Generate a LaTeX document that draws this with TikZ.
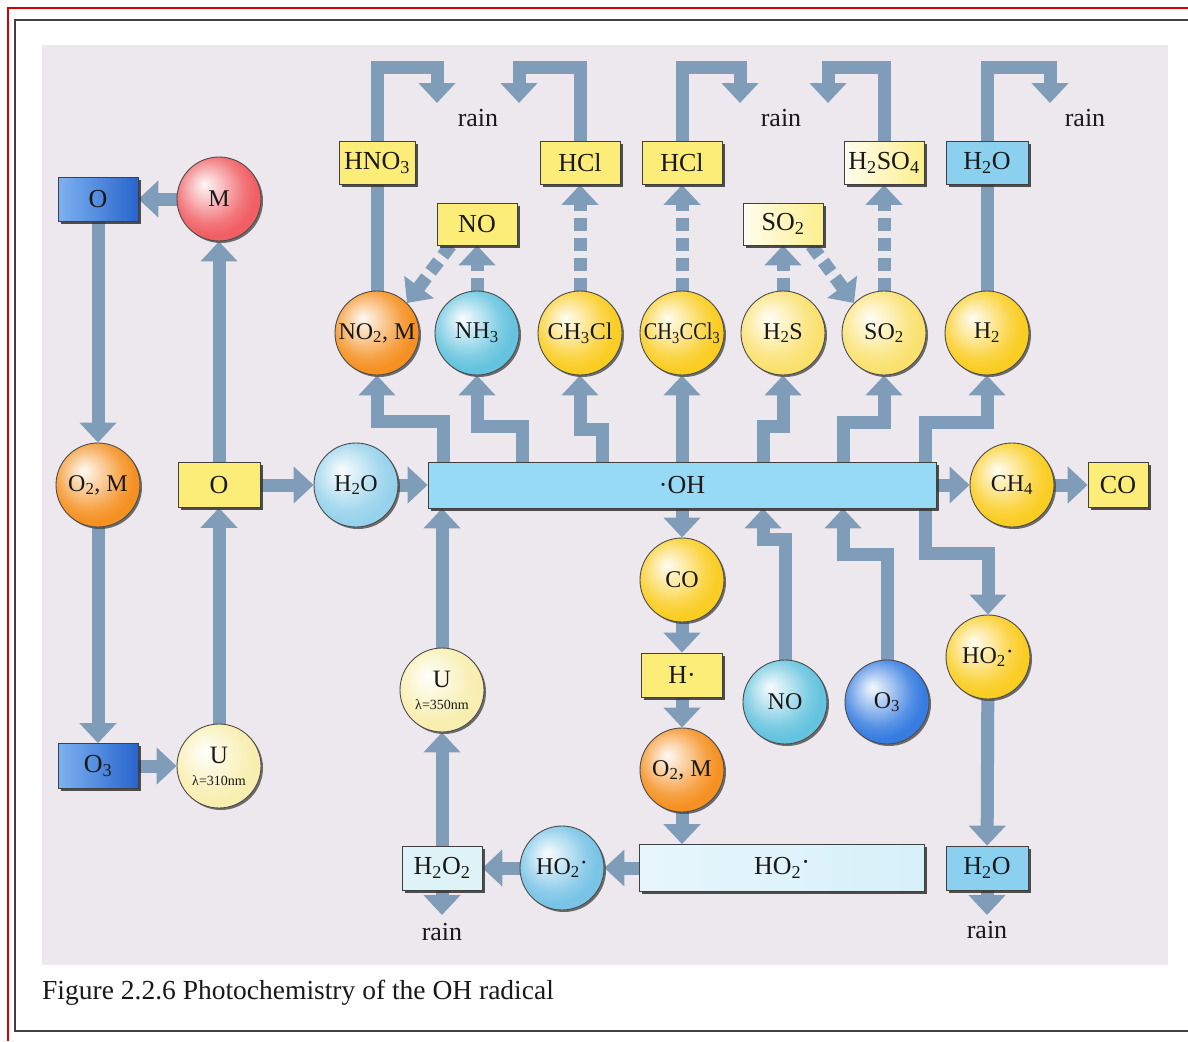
\documentclass[tikz,border=0pt]{standalone}
\usepackage{fontspec}
\setmainfont{Liberation Serif}
\usepackage{graphicx}
\usetikzlibrary{arrows.meta,shadows,calc}
\pgfdeclarelayer{bg}
\pgfdeclarelayer{conn}
\pgfsetlayers{bg,conn,main}
\makeatletter
\pgfdeclareradialshading[tikz@ball]{softball}{\pgfqpoint{-9bp}{9bp}}{%
 color(0bp)=(tikz@ball!5!white);
 color(9bp)=(tikz@ball!40!white);
 color(20bp)=(tikz@ball!85!white);
 color(26bp)=(tikz@ball);
 color(50bp)=(tikz@ball)}
\makeatother
\definecolor{flowc}{RGB}{127,156,185}
\definecolor{panelc}{RGB}{237,232,238}
\definecolor{yboxc}{RGB}{252,236,120}
\definecolor{redc}{RGB}{240,95,100}
\definecolor{orc}{RGB}{245,145,35}
\definecolor{yelc}{RGB}{250,205,35}
\definecolor{pyelc}{RGB}{250,225,110}
\definecolor{lbluec}{RGB}{100,195,222}
\definecolor{h2oblc}{RGB}{150,210,235}
\definecolor{ho2blc}{RGB}{120,195,230}
\definecolor{o3blc}{RGB}{55,125,225}
\definecolor{creamc}{RGB}{248,238,175}
\definecolor{barc}{RGB}{150,218,245}
\definecolor{bar2c}{RGB}{215,240,250}
\definecolor{h2oboxc}{RGB}{140,208,240}
\definecolor{h2o2c}{RGB}{222,243,248}
\newcommand{\sbs}[1]{\textsubscript{#1}}
\newcommand{\rdot}{\raisebox{0.35ex}{·}}
\begin{document}
\begin{tikzpicture}[x=1pt,y=-1pt,
 boxbase/.style={rectangle, draw=black!75, line width=0.8pt, inner sep=0pt,
   minimum width=80pt, minimum height=43pt, font=\fontsize{26}{28}\selectfont, text=black!90,
   drop shadow={shadow xshift=2.5pt,shadow yshift=-2.5pt,fill=black!80,opacity=.85}},
 ybox/.style={boxbase, fill=yboxc},
 cbox/.style={boxbase, left color=yboxc!12!white, right color=yboxc!85!white},
 blueb/.style={boxbase, left color={rgb,255:red,125;green,178;blue,240}, right color={rgb,255:red,40;green,100;blue,205}},
 bub/.style={circle, draw=black!70, line width=0.9pt, minimum size=84pt, inner sep=0pt,
   ball color=#1, shading=softball, font=\fontsize{24}{26}\selectfont, text=black!90,
   drop shadow={shadow xshift=2pt,shadow yshift=-2pt,fill=black!70,opacity=.8}},
 flow/.style={draw=flowc, line width=13pt, line join=miter, -{Triangle[width=36pt,length=20pt]}},
 plain/.style={draw=flowc, line width=13pt, line join=miter},
 dflow/.style={flow, dash pattern=on 13pt off 7pt},
 lbl/.style={font=\fontsize{26}{28}\selectfont, text=black!90, inner sep=0pt}
]
\useasboundingbox (0,0) rectangle (1188,1041);
\begin{pgfonlayer}{bg}
 \fill[white] (0,0) rectangle (1188,1041);
 \fill[panelc] (42,45) rectangle (1168,965);
 \draw[red!85!black, line width=1.3pt] (8,1041) -- (8,8) -- (1188,8);
 \draw[black!75, line width=1.6pt] (1188,20) -- (15,20) -- (15,1031) -- (1188,1031);
\end{pgfonlayer}

% helper x positions
\coordinate (k443) at (443,0);
\coordinate (k522) at (522,0);
\coordinate (k602) at (602,0);
\coordinate (k763) at (763,0);
\coordinate (k843) at (843,0);
\coordinate (k925) at (925,0);
\coordinate (rA) at (437,103);
\coordinate (rB) at (519,103);
\coordinate (rC) at (740,103);
\coordinate (rD) at (828,103);
\coordinate (rE) at (1050,103);
\coordinate (rF) at (442,915);
\coordinate (rG) at (987,915);

% top boxes
\node[ybox, minimum width=76pt] (hno3) at (377,163) {HNO\sbs{3}};
\node[ybox] (hcl1) at (580,163) {HCl};
\node[ybox] (hcl2) at (682,163) {HCl};
\node[cbox] (h2so4) at (884,163) {H\sbs{2}SO\sbs{4}};
\node[boxbase, fill=h2oboxc, minimum width=82pt] (h2otop) at (987,163) {H\sbs{2}O};
\node[ybox, minimum height=42pt] (nobox) at (477,224) {NO};
\node[cbox, minimum height=42pt] (so2box) at (783,224) {SO\sbs{2}};

\node[blueb, minimum height=44pt] (otop) at (98,199) {O};
\node[bub=redc] (m) at (219,199) {M};

% circle row
\node[bub=orc] (no2m) at (377,333) {NO\sbs{2}, M};
\node[bub=lbluec] (nh3) at (477,333) {NH\sbs{3}};
\node[bub=yelc] (ch3cl) at (580,333) {CH\sbs{3}Cl};
\node[bub=yelc] (ch3ccl3) at (682,333) {\scalebox{0.85}[1]{CH\sbs{3}CCl\sbs{3}}};
\node[bub=pyelc] (h2s) at (783,333) {H\sbs{2}S};
\node[bub=pyelc] (so2c) at (884,333) {SO\sbs{2}};
\node[bub=yelc] (h2) at (987,333) {H\sbs{2}};

% middle row
\node[bub=orc] (o2m) at (98,485) {O\sbs{2}, M};
\node[ybox, minimum width=82pt, minimum height=45pt] (obox) at (219,485) {O};
\node[bub=h2oblc] (h2oc) at (356,485) {H\sbs{2}O};
\node[boxbase, fill=barc, minimum width=508pt, minimum height=46pt] (ohbar) at (682,485) {·OH};
\node[bub=yelc] (ch4) at (1012,485) {CH\sbs{4}};
\node[ybox, minimum width=60pt, minimum height=45pt] (cosm) at (1118,485) {CO};

% lower middle
\node[bub=yelc] (co) at (682,580) {CO};
\node[ybox, minimum width=81pt, minimum height=44pt] (hdot) at (682,675) {H·};
\node[bub=orc] (o2m2) at (682,770) {O\sbs{2}, M};
\node[bub=lbluec] (noc) at (785,702) {NO};
\node[bub=o3blc] (o3c) at (887,702) {O\sbs{3}};
\node[bub=yelc] (ho2y) at (988,657) {HO\sbs{2}\rdot};

% bottom
\node[boxbase, left color=bar2c!60!white, right color=bar2c, minimum width=285pt, minimum height=47pt] (ho2bar) at (782,868) {HO\sbs{2}\rdot};
\node[boxbase, fill=h2oboxc, minimum width=82pt, minimum height=44pt] (h2obot) at (987,868) {H\sbs{2}O};
\node[boxbase, fill=h2o2c, minimum width=80pt, minimum height=44pt] (h2o2) at (442,868) {H\sbs{2}O\sbs{2}};
\node[bub=ho2blc] (ho2c) at (562,868) {HO\sbs{2}\rdot};
\node[bub=creamc, align=center, font=\fontsize{25}{25}\selectfont] (u350) at (442,690) {U\\[-3pt]{\fontsize{14}{14}\selectfont λ=350nm}};
\node[bub=creamc, align=center, font=\fontsize{25}{25}\selectfont] (u310) at (219,766) {U\\[-3pt]{\fontsize{14}{14}\selectfont λ=310nm}};
\node[blueb, minimum height=45pt] (o3box) at (98,766) {O\sbs{3}};

% labels
\node[lbl] (rain1) at (478,118) {rain};
\node[lbl] (rain2) at (781,118) {rain};
\node[lbl] (rain3) at (1085,118) {rain};
\node[lbl] (rain4) at (442,932) {rain};
\node[lbl] (rain5) at (987,930) {rain};
\node[anchor=west, inner sep=0pt, font=\fontsize{27.5}{30}\selectfont, text=black!90] (cap) at (42,993) {Figure 2.2.6 Photochemistry of the OH radical};

\begin{pgfonlayer}{conn}
% left loop
\draw[flow] (m) -- (otop);
\draw[flow] (otop) -- (o2m);
\draw[flow] (o2m) -- (o3box);
\draw[flow] (o3box) -- (u310);
\draw[flow] (u310) -- (obox);
\draw[flow] (obox) -- (m);
\draw[flow] (obox) -- (h2oc);
\draw[flow] (h2oc) -- (ohbar);
\draw[flow] (ohbar) -- (ch4);
\draw[flow] (ch4) -- (cosm);
% from OH bar upward
\draw[flow] (ohbar.north -| k443) -- ++(0,-40) -| (no2m.south);
\draw[flow] (ohbar.north -| k522) -- ++(0,-35) -| (nh3.south);
\draw[flow] (ohbar.north -| k602) -- ++(0,-32) -| (ch3cl.south);
\draw[flow] (ohbar.north -| ch3ccl3) -- (ch3ccl3.south);
\draw[flow] (ohbar.north -| k763) -- ++(0,-35) -| (h2s.south);
\draw[flow] (ohbar.north -| k843) -- ++(0,-39) -| (so2c.south);
\draw[flow] (ohbar.north -| k925) -- ++(0,-39) -| (h2.south);
% circles to top boxes
\draw[plain] (no2m) -- (hno3);
\draw[plain] (h2) -- (h2otop);
\draw[dflow] (ch3cl) -- (hcl1);
\draw[dflow] (ch3ccl3) -- (hcl2);
\draw[dflow] (so2c) -- (h2so4);
\draw[dflow] (nh3) -- (nobox);
\draw[dflow] (h2s) -- (so2box);
\draw[dflow] ([xshift=14pt]nobox.south west) -- (no2m.45);
\draw[dflow] ([xshift=-12pt]so2box.south east) -- (so2c.135);
% rain outlets
\draw[flow] (hno3.north) -- ++(0,-74) -| (rA);
\draw[flow] (hcl1.north) -- ++(0,-74) -| (rB);
\draw[flow] (hcl2.north) -- ++(0,-74) -| (rC);
\draw[flow] (h2so4.north) -- ++(0,-74) -| (rD);
\draw[flow] (h2otop.north) -- ++(0,-74) -| (rE);
% below OH bar
\draw[flow] (ohbar.south -| co) -- (co);
\draw[flow] (co) -- (hdot);
\draw[flow] (hdot) -- (o2m2);
\draw[flow] (o2m2) -- (ho2bar.north -| o2m2);
\draw[flow] (noc.north) -- ++(0,-120) -| (ohbar.south -| k763);
\draw[flow] (o3c.north) -- ++(0,-105) -| (ohbar.south -| k843);
\draw[flow] (ohbar.south -| k925) -- ++(0,45) -| (ho2y.north);
\draw[flow] (ho2y) -- (h2obot);
\draw[flow] (h2obot) -- (rG);
% bottom left
\draw[flow] (ho2bar) -- (ho2c);
\draw[flow] (ho2c) -- (h2o2);
\draw[flow] (h2o2) -- (u350);
\draw[flow] (u350) -- (ohbar.south -| u350);
\draw[flow] (h2o2) -- (rF);
\end{pgfonlayer}
\end{tikzpicture}
\end{document}
